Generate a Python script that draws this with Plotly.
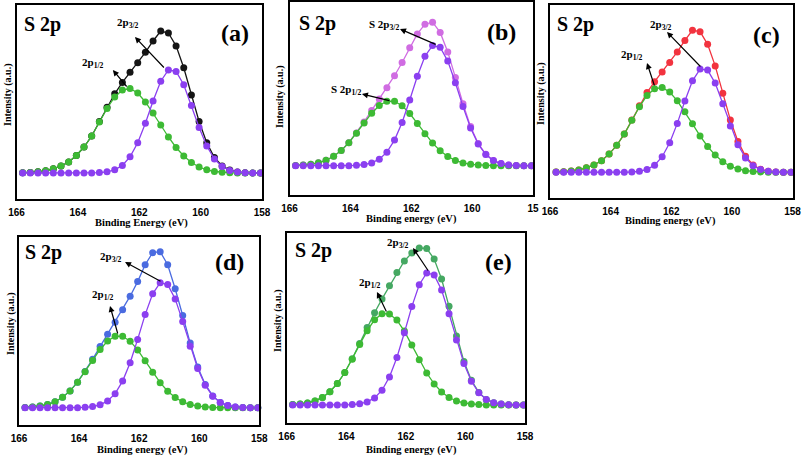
import plotly.graph_objects as go

# Binding energy grid (eV)
x_be = [165.8, 165.55, 165.3, 165.05, 164.8, 164.55, 164.3, 164.05, 163.8, 163.55,
        163.3, 163.05, 162.8, 162.55, 162.3, 162.05, 161.8, 161.55, 161.3, 161.05,
        160.8, 160.55, 160.3, 160.05, 159.8, 159.55, 159.3, 159.05, 158.8, 158.55,
        158.3, 158.05]

# (a)
p12_a = [0.3, 0.6, 1.2, 2.2, 4.2, 7.0, 11.0, 17.5, 26.0, 37.0, 51.0, 64.5, 76.0, 83.0, 84.5, 80.0,
         71.0, 60.0, 48.0, 36.0, 25.5, 17.0, 10.5, 6.0, 3.2, 1.5, 0.7, 0.3, 0, 0, 0, 0]
p32_a = [0, 0, 0, 0, 0, 0, 0, 0, 0, 0, 0.4, 1.2, 3.2, 7.6, 16.2, 30.3,
         49.7, 72.0, 91.8, 103.0, 101.6, 88.3, 67.6, 45.5, 27.0, 14.0, 6.4, 2.6, 0.9, 0.3, 0, 0]
env_a = [0.3, 0.6, 1.2, 2.2, 4.2, 7.0, 11.0, 17.5, 26.0, 37.0, 51.4, 65.7, 79.2, 90.6, 100.7, 110.3,
         120.7, 132.0, 142.0, 140.0, 127.1, 105.3, 78.1, 51.5, 30.2, 15.5, 7.1, 2.9, 0.9, 0.3, 0, 0]
# (b)
p12_b = [0.3, 0.7, 1.5, 2.9, 5.4, 9.4, 15.2, 23.0, 32.4, 42.7, 52.5, 60.2, 64.5, 64.4, 60.0, 52.2,
         42.3, 32.0, 22.6, 14.9, 9.2, 5.3, 2.8, 1.4, 0.7, 0.3, 0, 0, 0, 0, 0, 0]
p32_b = [0, 0, 0, 0, 0, 0, 0, 0, 0.4, 1.1, 2.8, 6.5, 13.5, 25.6, 43.2, 65.7,
         89.5, 109.5, 120.2, 118.4, 104.6, 83.0, 59.1, 37.7, 21.6, 11.1, 5.1, 2.1, 0.8, 0.3, 0, 0]
env_b = [0.3, 0.7, 1.5, 2.9, 5.4, 9.4, 15.2, 23.0, 32.8, 43.8, 55.3, 66.7, 78.0, 90.0, 103.2, 117.9,
         131.8, 141.5, 143.5, 133.3, 113.8, 88.3, 61.9, 39.1, 22.3, 11.4, 5.1, 2.1, 0.8, 0.3, 0, 0]
# (c)
p12_c = [0.3, 0.6, 1.3, 2.4, 4.5, 7.4, 11.6, 18.2, 27.0, 38.2, 52.0, 65.5, 76.8, 83.5, 84.8, 80.2,
         71.5, 60.5, 48.5, 36.4, 25.8, 17.2, 10.6, 6.1, 3.3, 1.6, 0.7, 0.3, 0, 0, 0, 0]
p32_c = [0, 0, 0, 0, 0, 0, 0, 0, 0, 0, 0.3, 1.0, 2.9, 7.1, 15.6, 29.5,
         48.9, 71.4, 91.5, 103.2, 102.2, 89.2, 68.5, 46.3, 27.6, 14.4, 6.6, 2.7, 1.0, 0.3, 0, 0]
env_c = [0.3, 0.6, 1.3, 2.4, 4.5, 7.4, 11.6, 18.2, 27.0, 38.2, 52.3, 66.5, 79.7, 90.6, 100.4, 109.7,
         120.4, 131.9, 142.0, 140.6, 128.0, 106.4, 79.1, 52.4, 30.9, 16.0, 7.3, 3.0, 1.0, 0.3, 0, 0]
# (d)
p12_d = [0.3, 0.8, 1.7, 3.2, 6.0, 10.4, 16.8, 25.5, 35.9, 47.3, 58.2, 66.7, 71.5, 71.4, 66.5, 57.8,
         46.9, 35.5, 25.0, 16.5, 10.2, 5.9, 3.1, 1.6, 0.8, 0.3, 0, 0, 0, 0, 0, 0]
p32_d = [0, 0, 0, 0, 0, 0, 0, 0, 0.4, 1.1, 2.9, 6.8, 14.0, 26.6, 45.0, 68.3,
         93.1, 113.9, 125.0, 123.1, 108.8, 86.3, 61.5, 39.2, 22.5, 11.5, 5.3, 2.2, 0.8, 0.3, 0, 0]
env_d = [0.3, 0.8, 1.7, 3.2, 6.0, 10.4, 16.8, 25.5, 36.3, 48.4, 61.1, 73.5, 85.5, 98.0, 111.5, 126.1,
         143.0, 155.0, 156.0, 143.0, 119.0, 92.2, 64.6, 40.8, 23.3, 11.8, 5.3, 2.2, 0.8, 0.3, 0, 0]
# (e)
p12_e = [0.4, 1.0, 2.1, 4.1, 7.6, 13.3, 21.5, 32.5, 45.8, 60.4, 74.3, 85.2, 91.3, 91.1, 84.9, 73.9,
         59.9, 45.3, 32.0, 21.1, 13.0, 7.5, 4.0, 2.0, 1.0, 0.4, 0, 0, 0, 0, 0, 0]
p32_e = [0, 0, 0, 0, 0, 0, 0, 0, 0.4, 1.2, 3.1, 7.1, 14.8, 28.1, 47.5, 72.2,
         98.4, 120.3, 132.1, 130.1, 115.0, 91.2, 65.0, 41.4, 23.7, 12.2, 5.6, 2.3, 0.9, 0.3, 0, 0]
env_e = [0.4, 1.0, 2.1, 4.1, 7.6, 13.3, 21.5, 32.5, 46.2, 61.6, 77.4, 92.3, 106.1, 119.2, 132.4, 144.0,
         152.0, 157.0, 156.5, 146.0, 126.0, 98.7, 69.0, 43.4, 24.7, 12.6, 5.6, 2.3, 0.9, 0.3, 0, 0]

tick_vals = [166, 164, 162, 160, 158]
tick_text = ["166", "164", "162", "160", "158"]
tick_text_b = ["166", "164", "162", "160", "15"]

W, H = 803, 459
GREEN = "#3dba34"
PURPLE = "#8b3ff0"
SERIF = "Liberation Serif"
SANS = "Liberation Sans"

panels = [
    dict(tag="(a)", xt="Binding Energy (eV)", L=16.5, R=262, T=5, B=199, ylo=-26, yhi=168,
         env=env_a, p12=p12_a, p32=p32_a, envc="#151515", ticks=tick_text,
         s2p=(22, 25), lab=(235, 33), yt=(8, 95), xtp=(141, 223),
         l32=dict(text="2p<sub>3/2</sub>", x=162.37, y=150, xa="center"),
         a32=dict(x=162.14, y=136, ax=161.15, ay=104),
         l12=dict(text="2p<sub>1/2</sub>", x=163.51, y=110, xa="center"),
         a12=dict(x=162.86, y=103, ax=162.37, ay=85)),
    dict(tag="(b)", xt="Binding energy (eV)", L=289.5, R=533, T=2, B=195, ylo=-29.3, yhi=163.7,
         env=env_b, p12=p12_b, p32=p32_b, envc="#d06ce2", ticks=tick_text_b,
         s2p=(297, 23), lab=(502, 32), yt=(280, 97), xtp=(411, 219),
         l32=dict(text="S 2p<sub>3/2</sub>", x=162.33, y=141, xa="right"),
         a32=dict(x=162.37, y=136.7, ax=161.15, ay=120.7),
         l12=dict(text="S 2p<sub>1/2</sub>", x=163.6, y=75.7, xa="right"),
         a12=dict(x=163.62, y=71.7, ax=162.67, ay=64.7)),
    dict(tag="(c)", xt="Binding energy (eV)", L=550, R=792.5, T=5, B=197.7, ylo=-25.4, yhi=167.3,
         env=env_c, p12=p12_c, p32=p32_c, envc="#f2333f", ticks=tick_text,
         s2p=(555, 25), lab=(766, 35), yt=(541, 94), xtp=(670, 221),
         l32=dict(text="2p<sub>3/2</sub>", x=162.35, y=147.3, xa="center"),
         a32=dict(x=162.14, y=140.3, ax=160.99, ay=104.3),
         l12=dict(text="2p<sub>1/2</sub>", x=163.31, y=117.3, xa="center"),
         a12=dict(x=162.8, y=109.3, ax=162.54, ay=85.3)),
    dict(tag="(d)", xt="Binding energy (eV)", L=19, R=259.3, T=236.5, B=425, ylo=-17.3, yhi=171.2,
         env=env_d, p12=p12_d, p32=p32_d, envc="#4a6be0", ticks=tick_text,
         s2p=(23, 253), lab=(230, 262), yt=(11, 324), xtp=(142, 450),
         l32=dict(text="2p<sub>3/2</sub>", x=162.95, y=150.7, xa="center"),
         a32=dict(x=162.47, y=145.7, ax=161.24, ay=125.7),
         l12=dict(text="2p<sub>1/2</sub>", x=163.22, y=112.7, xa="center"),
         a12=dict(x=162.97, y=101.7, ax=162.7, ay=72.7)),
    dict(tag="(e)", xt="Binding energy (eV)", L=286.7, R=525, T=233.3, B=423.3, ylo=-18.3, yhi=171.7,
         env=env_e, p12=p12_e, p32=p32_e, envc="#45a862", ticks=tick_text,
         s2p=(293, 250), lab=(498, 262), yt=(278, 321), xtp=(411, 450),
         l32=dict(text="2p<sub>3/2</sub>", x=162.28, y=162, xa="center"),
         a32=dict(x=161.76, y=157, ax=161.22, ay=133),
         l12=dict(text="2p<sub>1/2</sub>", x=163.19, y=122, xa="center"),
         a12=dict(x=162.97, y=113, ax=162.63, ay=92)),
]

fig = go.Figure()
layout = dict(width=W, height=H, autosize=False, margin=dict(l=0, r=0, t=0, b=0, pad=0),
              paper_bgcolor="white", plot_bgcolor="white", showlegend=False)
annotations = []

for i, p in enumerate(panels):
    n = "" if i == 0 else str(i + 1)
    xref, yref = "x" + n, "y" + n
    for vals, col in ((p["env"], p["envc"]), (p["p12"], GREEN), (p["p32"], PURPLE)):
        fig.add_trace(go.Scatter(x=x_be, y=vals, mode="lines+markers", xaxis=xref, yaxis=yref,
                                 line=dict(color=col, width=1.3),
                                 marker=dict(color=col, size=7), cliponaxis=False,
                                 hoverinfo="skip"))
    layout["xaxis" + n] = dict(domain=[p["L"] / W, p["R"] / W], anchor=yref, range=[166, 158],
                               showline=True, linecolor="black", linewidth=1.7, mirror=True,
                               showgrid=False, zeroline=False, ticks="outside", ticklen=3,
                               tickcolor="rgba(0,0,0,0)", tickvals=tick_vals, ticktext=p["ticks"],
                               automargin=False,
                               tickfont=dict(family=SANS, size=10, color="black", weight="bold"))
    layout["yaxis" + n] = dict(domain=[1 - p["B"] / H, 1 - p["T"] / H], anchor=xref,
                               range=[p["ylo"], p["yhi"]], showline=True, linecolor="black",
                               linewidth=1.7, mirror=True, showgrid=False, zeroline=False,
                               showticklabels=False, ticks="", automargin=False)
    # panel texts
    annotations.append(dict(text="<b>S 2p</b>", xref="paper", yref="paper", x=p["s2p"][0] / W,
                            y=1 - p["s2p"][1] / H, xanchor="left", yanchor="middle", showarrow=False,
                            font=dict(family=SERIF, size=20, color="black")))
    annotations.append(dict(text="<b>" + p["tag"] + "</b>", xref="paper", yref="paper",
                            x=p["lab"][0] / W, y=1 - p["lab"][1] / H, xanchor="center",
                            yanchor="middle", showarrow=False,
                            font=dict(family=SERIF, size=24, color="black")))
    annotations.append(dict(text="<b>Intensity (a.u.)</b>", xref="paper", yref="paper",
                            x=p["yt"][0] / W, y=1 - p["yt"][1] / H, xanchor="center",
                            yanchor="middle", textangle=-90, showarrow=False,
                            font=dict(family=SERIF, size=10, color="black")))
    annotations.append(dict(text="<b>" + p["xt"] + "</b>", xref="paper", yref="paper",
                            x=p["xtp"][0] / W, y=1 - p["xtp"][1] / H, xanchor="center",
                            yanchor="middle", showarrow=False,
                            font=dict(family=SERIF, size=10.5, color="black")))
    for lk, ak in (("l32", "a32"), ("l12", "a12")):
        lab, arr = p[lk], p[ak]
        annotations.append(dict(text="<b>" + lab["text"] + "</b>", xref=xref, yref=yref,
                                x=lab["x"], y=lab["y"], xanchor=lab["xa"], yanchor="middle",
                                showarrow=False, font=dict(family=SERIF, size=11, color="black")))
        annotations.append(dict(text="", xref=xref, yref=yref, x=arr["x"], y=arr["y"],
                                axref=xref, ayref=yref, ax=arr["ax"], ay=arr["ay"],
                                showarrow=True, arrowhead=2, arrowsize=1, arrowwidth=1.2,
                                arrowcolor="black", standoff=0, startstandoff=0))

layout["annotations"] = annotations
fig.update_layout(**layout)
fig.write_html("out.html", config={"displayModeBar": False},
               post_script="document.body.style.margin='0';document.body.style.padding='0';"
                           "document.documentElement.style.overflow='hidden';")
